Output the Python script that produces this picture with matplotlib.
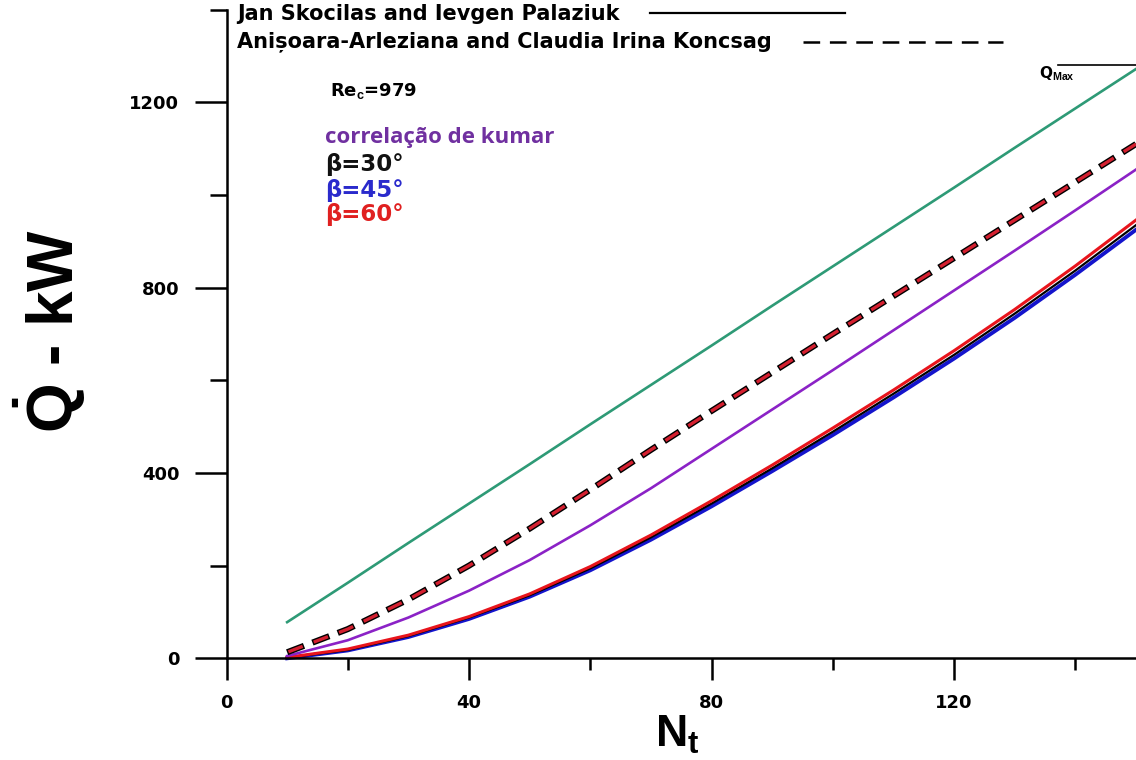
import matplotlib
matplotlib.use("Agg")
import matplotlib.pyplot as plt
from matplotlib.lines import Line2D

plt.rcParams["lines.scale_dashes"] = False
plt.rcParams["mathtext.fontset"] = "custom"
plt.rcParams["mathtext.bf"] = "Liberation Sans:bold"
plt.rcParams["mathtext.rm"] = "Liberation Sans:bold"

# ---- data -------------------------------------------------------------
n_tubes = [10, 20, 30, 40, 50, 60, 70, 80, 90, 100, 110, 120, 130, 140, 150]

q_max = [78, 163, 249, 334, 419, 505, 590, 675, 761, 846, 931, 1016, 1102, 1187, 1272]

# Koncsag correlation (dashed)
q_koncsag_b30 = [13, 63, 127, 200, 280, 364, 450, 534, 617, 700, 782, 864, 946, 1028, 1110]
q_koncsag_b60 = [13, 63, 127, 200, 280, 364, 450, 534, 617, 700, 782, 864, 946, 1028, 1110]

# Kumar correlation
q_kumar = [5, 39, 88, 146, 212, 287, 367, 452, 537, 622, 708, 794, 880, 967, 1055]

# Skocilas & Palaziuk correlation (solid)
q_skocilas_b30 = [1, 18, 48, 88, 136, 194, 261, 334, 410, 489, 571, 655, 744, 837, 935]
q_skocilas_b45 = [0, 17, 46, 85, 133, 190, 256, 328, 404, 482, 563, 647, 735, 828, 925]
q_skocilas_b60 = [2, 20, 50, 90, 139, 198, 266, 340, 417, 497, 579, 664, 753, 847, 946]

x_major = [0, 40, 80, 120]
x_minor = [20, 60, 100, 140]
y_major = [0, 400, 800, 1200]
y_minor = [200, 600, 1000, 1400]

# ---- figure -----------------------------------------------------------
W, H = 1136, 760
fig = plt.figure(figsize=(W / 100, H / 100), dpi=100)


def fx(x):
    return x / W


def fy(y):
    return 1 - y / H


ax_left, ax_bottom, ax_top = 226.5, 658.3, 9.7
ax = fig.add_axes([fx(ax_left), fy(ax_bottom), 1 - fx(ax_left), (ax_bottom - ax_top) / H])
ax.set_xlim(0, 150)
ax.set_ylim(0, 1400)

green = "#2e9a76"
purple = "#8b22c6"
red = "#e8141c"
blue = "#1414cc"

ax.plot(n_tubes, q_max, color=green, lw=1.9, clip_on=False)

ax.plot(n_tubes, q_skocilas_b45, color=blue, lw=2.8, clip_on=False)
ax.plot(n_tubes, q_skocilas_b30, color="black", lw=1.6, clip_on=False)
ax.plot(n_tubes, q_skocilas_b60, color=red, lw=2.2, clip_on=False)

ax.plot(n_tubes, q_kumar, color=purple, lw=1.9, clip_on=False)

ax.plot(n_tubes, q_koncsag_b30, color="black", lw=4.4,
        linestyle=(0, (13, 6.5)), dash_capstyle="butt", clip_on=False)
ax.plot(n_tubes, q_koncsag_b60, color="#d42030", lw=2.4,
        linestyle=(18.5, (11, 8.5)), dash_capstyle="butt", clip_on=False)

# ---- axes styling -----------------------------------------------------
for side in ("top", "right"):
    ax.spines[side].set_visible(False)
for side in ("left", "bottom"):
    ax.spines[side].set_linewidth(1.8)

ax.set_xticks(x_major)
ax.set_xticks(x_minor, minor=True)
ax.set_yticks(y_major)
ax.set_yticks(y_minor, minor=True)
ax.set_xticklabels([str(v) for v in x_major])
ax.set_yticklabels([str(v) for v in y_major])

ax.tick_params(axis="x", which="major", direction="out", length=16, width=1.8, pad=10)
ax.tick_params(axis="x", which="minor", direction="out", length=8.6, width=1.8)
ax.tick_params(axis="y", which="major", direction="out", length=23, width=1.8, pad=11)
ax.tick_params(axis="y", which="minor", direction="out", length=12, width=1.8)
for lab in ax.get_xticklabels() + ax.get_yticklabels():
    lab.set_fontfamily("DejaVu Sans")
    lab.set_fontweight("bold")
    lab.set_fontsize(13)

# ---- axis titles ------------------------------------------------------
fig.text(fx(50), fy(331), r"$\dot{\mathbf{Q}}$ - kW", rotation=90, ha="center", va="center",
         fontsize=46, fontweight="bold", family="Liberation Sans")
fig.text(fx(655), fy(747), r"$\mathbf{N_t}$", ha="left", va="baseline", fontsize=32)

# ---- legend block at the top ------------------------------------------
fig.text(fx(237), fy(14), "Jan Skocilas and Ievgen Palaziuk", ha="left", va="center",
         fontsize=15, fontweight="bold", family="DejaVu Sans")
fig.text(fx(237), fy(42), "Anișoara-Arleziana and Claudia Irina Koncsag", ha="left", va="center",
         fontsize=15, fontweight="bold", family="DejaVu Sans")
fig.add_artist(Line2D([fx(650), fx(845)], [fy(13), fy(13)], color="black", lw=1.6,
                      transform=fig.transFigure))
fig.add_artist(Line2D([fx(803), fx(1003)], [fy(42), fy(42)], color="black", lw=1.8,
                      linestyle=(0, (12, 7)), transform=fig.transFigure))

# ---- annotations ------------------------------------------------------
fig.text(fx(330), fy(91), r"Re$_\mathbf{c}$=979", ha="left", va="center",
         fontsize=13, fontweight="bold", family="DejaVu Sans")
fig.text(fx(325), fy(138), "correlação de kumar", ha="left", va="center",
         fontsize=16, fontweight="bold", family="Open Sans", color="#7030a0")
fig.text(fx(325), fy(165), "β=30°", ha="left", va="center",
         fontsize=16.5, fontweight="bold", family="DejaVu Sans", color="#111111")
fig.text(fx(325), fy(190), "β=45°", ha="left", va="center",
         fontsize=16.5, fontweight="bold", family="DejaVu Sans", color="#2a2acc")
fig.text(fx(325), fy(215), "β=60°", ha="left", va="center",
         fontsize=16.5, fontweight="bold", family="DejaVu Sans", color="#e02020")

fig.text(fx(1039), fy(74), r"Q$_\mathbf{Max}$", ha="left", va="center",
         fontsize=11, fontweight="bold", family="DejaVu Sans")
fig.add_artist(Line2D([fx(1058), fx(1136)], [fy(65), fy(65)], color="black", lw=1.2,
                      transform=fig.transFigure))

fig.savefig("out.png", dpi=100)
